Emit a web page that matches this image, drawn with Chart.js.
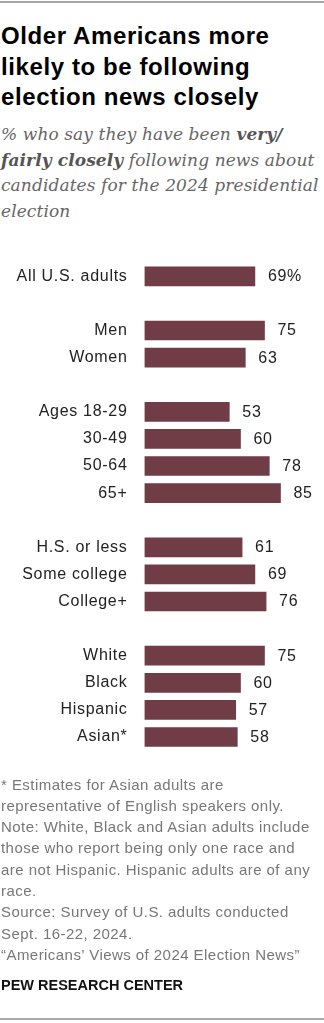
<!DOCTYPE html>
<html>
<head>
<meta charset="utf-8">
<script src="https://cdn.jsdelivr.net/npm/chart.js@4/dist/chart.umd.min.js"></script>
<style>
  html, body { margin: 0; padding: 0; background: #fff; }
  body { width: 324px; height: 1023px; position: relative; overflow: hidden;
         font-family: "Liberation Sans", Arial, sans-serif; }
  .rule { position: absolute; left: 0; width: 324px; height: 2px; background: #a8a8a8; }
  #title { position: absolute; left: 1px; top: 21.4px; margin: 0;
           font-size: 24px; line-height: 30.5px; font-weight: bold; color: #000;
           letter-spacing: 0.6px; white-space: nowrap; }
  #subtitle { position: absolute; left: 1px; top: 122px; margin: 0;
              font-family: "DejaVu Serif", serif; font-style: italic;
              font-size: 17px; line-height: 25.7px; color: #666;
              letter-spacing: 0.1px; white-space: nowrap; }
  #subtitle b { color: #555; }
  #chartBox { position: absolute; left: 0; top: 233px; width: 324px; height: 548px; }
  #notes { position: absolute; left: 1px; top: 773.5px; margin: 0;
           font-size: 15px; line-height: 21.3px; color: #777;
           letter-spacing: 0.45px; white-space: nowrap; }
  #brand { position: absolute; left: 1px; top: 975px; margin: 0;
           font-size: 14.5px; line-height: 20px; font-weight: bold; color: #111; white-space: nowrap; }
</style>
</head>
<body>
<div class="rule" style="top:1px"></div>
<h1 id="title">Older Americans more<br>likely to be following<br>election news closely</h1>
<p id="subtitle">% who say they have been <b>very/</b><br><b>fairly closely</b> following news about<br>candidates for the 2024 presidential<br>election</p>
<div id="chartBox"><canvas id="chart" width="324" height="548"></canvas></div>
<p id="notes">* Estimates for Asian adults are<br>representative of English speakers only.<br>Note: White, Black and Asian adults include<br>those who report being only one race and<br>are not Hispanic. Hispanic adults are of any<br>race.<br>Source: Survey of U.S. adults conducted<br>Sept. 16-22, 2024.<br>“Americans’ Views of 2024 Election News”</p>
<p id="brand">PEW RESEARCH CENTER</p>
<div class="rule" style="top:1018px"></div>

<script>
// Groups are separated by empty category slots.
const categories = [
  "All U.S. adults", "",
  "Men", "Women", "",
  "Ages 18-29", "30-49", "50-64", "65+", "",
  "H.S. or less", "Some college", "College+", "",
  "White", "Black", "Hispanic", "Asian*"
];
const values = [
  69, null,
  75, 63, null,
  53, 60, 78, 85, null,
  61, 69, 76, null,
  75, 60, 57, 58
];
// Only the first bar carries the percent sign.
const percentSignIndex = 0;

const BAR_COLOR = "#703c46";
const TEXT_COLOR = "#222";
const LABEL_FONT = { family: "'Liberation Sans', Arial, sans-serif", size: 16 };
const LABEL_SPACING = "0.7px";

// Slightly open tracking for every label drawn on the canvas.
const letterSpacing = {
  id: "letterSpacing",
  beforeDraw(chart) { chart.ctx.letterSpacing = LABEL_SPACING; }
};

const valueLabels = {
  id: "valueLabels",
  afterDatasetsDraw(chart) {
    const ctx = chart.ctx;
    const meta = chart.getDatasetMeta(0);
    ctx.save();
    ctx.letterSpacing = LABEL_SPACING;
    ctx.font = LABEL_FONT.size + "px " + LABEL_FONT.family;
    ctx.fillStyle = TEXT_COLOR;
    ctx.textAlign = "left";
    ctx.textBaseline = "middle";
    meta.data.forEach((bar, i) => {
      const v = values[i];
      if (v === null) return;
      const text = i === percentSignIndex ? v + "%" : String(v);
      ctx.fillText(text, bar.x + 13, bar.y + 0.5);
    });
    ctx.restore();
  }
};

new Chart(document.getElementById("chart"), {
  type: "bar",
  data: {
    labels: categories,
    datasets: [{
      data: values,
      backgroundColor: BAR_COLOR,
      borderWidth: 0,
      barThickness: 19
    }]
  },
  options: {
    indexAxis: "y",
    responsive: false,
    animation: false,
    devicePixelRatio: 1,
    layout: { padding: { top: 29.75, bottom: 30.45, left: 0, right: 19.5 } },
    plugins: { legend: { display: false }, tooltip: { enabled: false } },
    scales: {
      x: { display: false, min: 0, max: 100 },
      y: {
        grid: { display: false, drawTicks: false },
        border: { display: false },
        ticks: { color: TEXT_COLOR, font: LABEL_FONT, padding: 17, autoSkip: false },
        afterFit(scale) { scale.width = 144.5; }
      }
    }
  },
  plugins: [letterSpacing, valueLabels]
});
</script>
</body>
</html>
